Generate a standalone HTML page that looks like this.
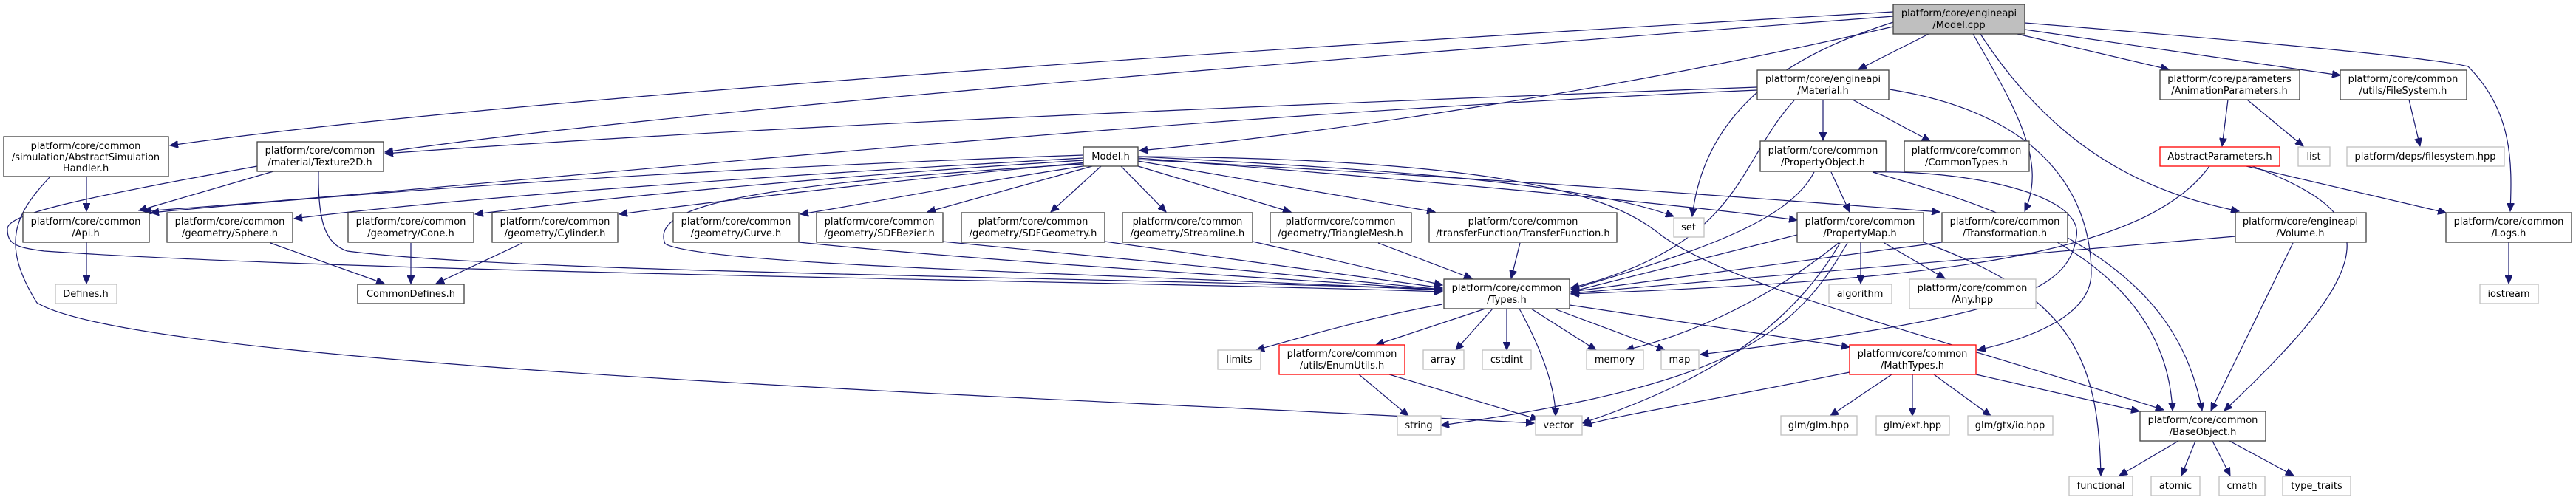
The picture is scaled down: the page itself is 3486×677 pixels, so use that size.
<!DOCTYPE html>
<html><head><meta charset="utf-8"><style>
html,body{margin:0;padding:0;background:#fff;}
svg{display:block;}
text{font-family:"DejaVu Sans","Liberation Sans",sans-serif;font-size:13px;fill:#000;}
.n{fill:#fff;stroke:#404040;stroke-width:1.3;}
.g{fill:#fff;stroke:#bfbfbf;stroke-width:1.3;}
.r{fill:#fff;stroke:#ff0000;stroke-width:1.3;}
.e{fill:none;stroke:#191970;stroke-width:1.2;marker-end:url(#a);}
</style></head><body>
<svg width="3486" height="677" viewBox="0 0 3486 677" xmlns="http://www.w3.org/2000/svg">
<defs><marker id="a" markerUnits="userSpaceOnUse" markerWidth="12" markerHeight="10" refX="11" refY="5" orient="auto"><path d="M0,0 L11,5 L0,10 z" fill="#191970" stroke="#191970"/></marker></defs>
<g>
<path class="e" d="M2562,16 C1800,60 700,130 230,197"/>
<path class="e" d="M2562,22 C1800,80 900,150 521,206"/>
<path class="e" d="M2562,36 C2200,120 1800,180 1542,204"/>
<path class="e" d="M2562,30 C2470,60 2310,120 2290,293"/>
<path class="e" d="M2610,46 L2515,94"/>
<path class="e" d="M2670,46 C2730,150 2770,220 2740,286"/>
<path class="e" d="M2680,46 C2780,200 2900,260 3030,286"/>
<path class="e" d="M2730,46 L2935,94"/>
<path class="e" d="M2740,40 L3167,102"/>
<path class="e" d="M2740,31 C3100,60 3300,80 3340,90 C3400,150 3400,220 3397,286"/>
<path class="e" d="M2378,122 C1500,160 700,250 194,286"/>
<path class="e" d="M2378,118 C1500,150 900,180 521,208"/>
<path class="e" d="M2428,136 C2350,220 2360,330 2126,390"/>
<path class="e" d="M2467,135 L2467,190"/>
<path class="e" d="M2507,135 L2612,191"/>
<path class="e" d="M2557,121 C2800,160 2830,300 2830,370 C2830,430 2740,460 2676,474"/>
<path class="e" d="M1466,210 C900,230 500,260 204,288"/>
<path class="e" d="M1466,214 C1000,240 600,270 398,296"/>
<path class="e" d="M1466,217 C1100,240 800,270 643,290"/>
<path class="e" d="M1470,220 C1200,245 950,275 838,290"/>
<path class="e" d="M1472,224 C1300,250 1150,280 1083,290"/>
<path class="e" d="M1478,225 L1255,287"/>
<path class="e" d="M1490,225 L1422,287"/>
<path class="e" d="M1517,225 L1578,287"/>
<path class="e" d="M1540,225 L1747,287"/>
<path class="e" d="M1540,218 L1942,287"/>
<path class="e" d="M1540,212 C1900,230 2150,250 2265,293"/>
<path class="e" d="M1540,214 C2000,250 2300,280 2432,298"/>
<path class="e" d="M1540,216 C2000,240 2400,270 2625,287"/>
<path class="e" d="M1540,212 C2100,215 2200,280 2250,320 C2350,390 2600,450 2928,555"/>
<path class="e" d="M1466,222 C1000,250 880,280 900,330 C950,360 1500,370 1952,393"/>
<path class="e" d="M370,232 L188,285"/>
<path class="e" d="M431,232 C430,300 440,330 470,340 C700,370 1500,375 1952,392"/>
<path class="e" d="M348,225 C100,270 10,290 10,310 C10,330 20,335 60,340 C500,370 1500,380 1952,395"/>
<path class="e" d="M117,239 L117,286"/>
<path class="e" d="M68,239 C20,290 0,330 50,410 C200,500 1500,540 2076,573"/>
<path class="e" d="M117,328 L117,384"/>
<path class="e" d="M366,329 L520,384"/>
<path class="e" d="M556,329 L556,384"/>
<path class="e" d="M707,329 L590,384"/>
<path class="e" d="M1081,328 C1400,360 1800,380 1952,393"/>
<path class="e" d="M1275,327 L1952,392"/>
<path class="e" d="M1495,327 L1952,390"/>
<path class="e" d="M1695,327 L1952,386"/>
<path class="e" d="M1865,329 L1992,377"/>
<path class="e" d="M2057,329 L2045,377"/>
<path class="e" d="M2478,233 L2503,287"/>
<path class="e" d="M2455,233 C2420,300 2300,340 2126,392"/>
<path class="e" d="M2534,233 C2700,280 2930,350 2940,556"/>
<path class="e" d="M2534,233 C2650,230 2820,260 2810,320 C2800,400 2700,430 2301,480"/>
<path class="e" d="M2518,328 L2518,384"/>
<path class="e" d="M2550,329 L2632,377"/>
<path class="e" d="M2432,318 L2126,395"/>
<path class="e" d="M2488,329 C2400,400 2300,450 2200,474"/>
<path class="e" d="M2500,329 C2430,450 2350,520 1950,576"/>
<path class="e" d="M2490,329 C2420,450 2300,520 2141,573"/>
<path class="e" d="M2603,328 C2800,400 2840,480 2843,644"/>
<path class="e" d="M2628,328 L2126,395"/>
<path class="e" d="M2798,322 C2900,380 2960,450 2980,556"/>
<path class="e" d="M3025,320 L2126,397"/>
<path class="e" d="M3103,329 L2992,556"/>
<path class="e" d="M2990,225 C2900,350 2600,380 2126,398"/>
<path class="e" d="M3040,225 L3310,288"/>
<path class="e" d="M3048,225 C3220,290 3230,350 3010,556"/>
<path class="e" d="M3015,135 L3007,198"/>
<path class="e" d="M3041,135 L3117,198"/>
<path class="e" d="M3260,135 L3275,198"/>
<path class="e" d="M3395,328 L3395,384"/>
<path class="e" d="M1952,412 C1850,430 1750,460 1700,474"/>
<path class="e" d="M2010,418 L1862,467"/>
<path class="e" d="M2020,418 L1970,474"/>
<path class="e" d="M2039,418 L2039,474"/>
<path class="e" d="M2056,418 C2090,480 2105,530 2105,563"/>
<path class="e" d="M2072,418 L2160,474"/>
<path class="e" d="M2103,418 L2253,474"/>
<path class="e" d="M2124,413 L2503,470"/>
<path class="e" d="M1839,507 L1906,563"/>
<path class="e" d="M1880,507 L2082,568"/>
<path class="e" d="M2560,507 L2477,563"/>
<path class="e" d="M2588,507 L2588,563"/>
<path class="e" d="M2617,507 L2694,563"/>
<path class="e" d="M2674,507 L2895,557"/>
<path class="e" d="M2503,504 C2300,545 2200,560 2143,576"/>
<path class="e" d="M2948,597 L2868,644"/>
<path class="e" d="M2971,597 L2952,644"/>
<path class="e" d="M2994,597 L3018,644"/>
<path class="e" d="M3017,597 L3104,644"/>
</g>
<g text-anchor="middle">
<rect x="2562" y="6" width="178" height="40" fill="#bfbfbf" stroke="#404040" stroke-width="1.3"/><text x="2651" y="22">platform/core/engineapi</text><text x="2651" y="38">/Model.cpp</text>
<rect class="n" x="5" y="185" width="223" height="54"/><text x="116" y="202">platform/core/common</text><text x="116" y="217">/simulation/AbstractSimulation</text><text x="116" y="232">Handler.h</text>
<rect class="n" x="348" y="192" width="171" height="40"/><text x="433" y="208">platform/core/common</text><text x="433" y="224">/material/Texture2D.h</text>
<rect class="n" x="1466" y="199" width="74" height="26"/><text x="1503" y="216">Model.h</text>
<rect class="n" x="2378" y="95" width="178" height="40"/><text x="2467" y="111">platform/core/engineapi</text><text x="2467" y="127">/Material.h</text>
<rect class="n" x="2923" y="95" width="189" height="40"/><text x="3017" y="111">platform/core/parameters</text><text x="3017" y="127">/AnimationParameters.h</text>
<rect class="n" x="3167" y="95" width="171" height="40"/><text x="3252" y="111">platform/core/common</text><text x="3252" y="127">/utils/FileSystem.h</text>
<rect class="n" x="2382" y="191" width="170" height="41"/><text x="2467" y="208">platform/core/common</text><text x="2467" y="224">/PropertyObject.h</text>
<rect class="n" x="2577" y="191" width="169" height="41"/><text x="2661" y="208">platform/core/common</text><text x="2661" y="224">/CommonTypes.h</text>
<rect class="r" x="2923" y="199" width="162" height="26"/><text x="3004" y="216">AbstractParameters.h</text>
<rect class="g" x="3110" y="199" width="43" height="26"/><text x="3131" y="216">list</text>
<rect class="g" x="3176" y="199" width="213" height="26"/><text x="3282" y="216">platform/deps/filesystem.hpp</text>
<rect class="n" x="31" y="288" width="171" height="40"/><text x="116" y="304">platform/core/common</text><text x="116" y="320">/Api.h</text>
<rect class="n" x="226" y="288" width="170" height="40"/><text x="311" y="304">platform/core/common</text><text x="311" y="320">/geometry/Sphere.h</text>
<rect class="n" x="471" y="288" width="170" height="40"/><text x="556" y="304">platform/core/common</text><text x="556" y="320">/geometry/Cone.h</text>
<rect class="n" x="666" y="288" width="170" height="40"/><text x="751" y="304">platform/core/common</text><text x="751" y="320">/geometry/Cylinder.h</text>
<rect class="n" x="911" y="288" width="170" height="40"/><text x="996" y="304">platform/core/common</text><text x="996" y="320">/geometry/Curve.h</text>
<rect class="n" x="1105" y="288" width="171" height="40"/><text x="1190" y="304">platform/core/common</text><text x="1190" y="320">/geometry/SDFBezier.h</text>
<rect class="n" x="1301" y="288" width="194" height="40"/><text x="1398" y="304">platform/core/common</text><text x="1398" y="320">/geometry/SDFGeometry.h</text>
<rect class="n" x="1519" y="288" width="176" height="40"/><text x="1607" y="304">platform/core/common</text><text x="1607" y="320">/geometry/Streamline.h</text>
<rect class="n" x="1719" y="288" width="191" height="40"/><text x="1814" y="304">platform/core/common</text><text x="1814" y="320">/geometry/TriangleMesh.h</text>
<rect class="n" x="1934" y="288" width="254" height="40"/><text x="2061" y="304">platform/core/common</text><text x="2061" y="320">/transferFunction/TransferFunction.h</text>
<rect class="g" x="2265" y="295" width="41" height="26"/><text x="2285" y="312">set</text>
<rect class="n" x="2432" y="288" width="171" height="40"/><text x="2517" y="304">platform/core/common</text><text x="2517" y="320">/PropertyMap.h</text>
<rect class="n" x="2628" y="288" width="170" height="40"/><text x="2713" y="304">platform/core/common</text><text x="2713" y="320">/Transformation.h</text>
<rect class="n" x="3025" y="288" width="177" height="40"/><text x="3113" y="304">platform/core/engineapi</text><text x="3113" y="320">/Volume.h</text>
<rect class="n" x="3310" y="288" width="170" height="40"/><text x="3395" y="304">platform/core/common</text><text x="3395" y="320">/Logs.h</text>
<rect class="g" x="75" y="385" width="83" height="26"/><text x="116" y="402">Defines.h</text>
<rect class="n" x="484" y="385" width="144" height="26"/><text x="556" y="402">CommonDefines.h</text>
<rect class="n" x="1954" y="378" width="170" height="40"/><text x="2039" y="394">platform/core/common</text><text x="2039" y="410">/Types.h</text>
<rect class="g" x="2475" y="385" width="85" height="26"/><text x="2517" y="402">algorithm</text>
<rect class="g" x="2584" y="378" width="171" height="40"/><text x="2669" y="394">platform/core/common</text><text x="2669" y="410">/Any.hpp</text>
<rect class="g" x="3356" y="385" width="79" height="26"/><text x="3395" y="402">iostream</text>
<rect class="g" x="1648" y="474" width="58" height="26"/><text x="1677" y="491">limits</text>
<rect class="r" x="1731" y="467" width="170" height="40"/><text x="1816" y="483">platform/core/common</text><text x="1816" y="499">/utils/EnumUtils.h</text>
<rect class="g" x="1926" y="474" width="55" height="26"/><text x="1953" y="491">array</text>
<rect class="g" x="2006" y="474" width="66" height="26"/><text x="2039" y="491">cstdint</text>
<rect class="g" x="2147" y="474" width="77" height="26"/><text x="2185" y="491">memory</text>
<rect class="g" x="2248" y="474" width="51" height="26"/><text x="2273" y="491">map</text>
<rect class="r" x="2503" y="467" width="171" height="40"/><text x="2588" y="483">platform/core/common</text><text x="2588" y="499">/MathTypes.h</text>
<rect class="g" x="1891" y="563" width="59" height="26"/><text x="1920" y="580">string</text>
<rect class="g" x="2078" y="563" width="63" height="26"/><text x="2109" y="580">vector</text>
<rect class="g" x="2410" y="563" width="103" height="26"/><text x="2461" y="580">glm/glm.hpp</text>
<rect class="g" x="2539" y="563" width="99" height="26"/><text x="2588" y="580">glm/ext.hpp</text>
<rect class="g" x="2663" y="563" width="115" height="26"/><text x="2720" y="580">glm/gtx/io.hpp</text>
<rect class="n" x="2896" y="557" width="170" height="40"/><text x="2981" y="573">platform/core/common</text><text x="2981" y="589">/BaseObject.h</text>
<rect class="g" x="2800" y="645" width="86" height="26"/><text x="2843" y="662">functional</text>
<rect class="g" x="2911" y="645" width="66" height="26"/><text x="2944" y="662">atomic</text>
<rect class="g" x="3003" y="645" width="62" height="26"/><text x="3034" y="662">cmath</text>
<rect class="g" x="3089" y="645" width="92" height="26"/><text x="3135" y="662">type_traits</text>
</g>
</svg>
</body></html>
